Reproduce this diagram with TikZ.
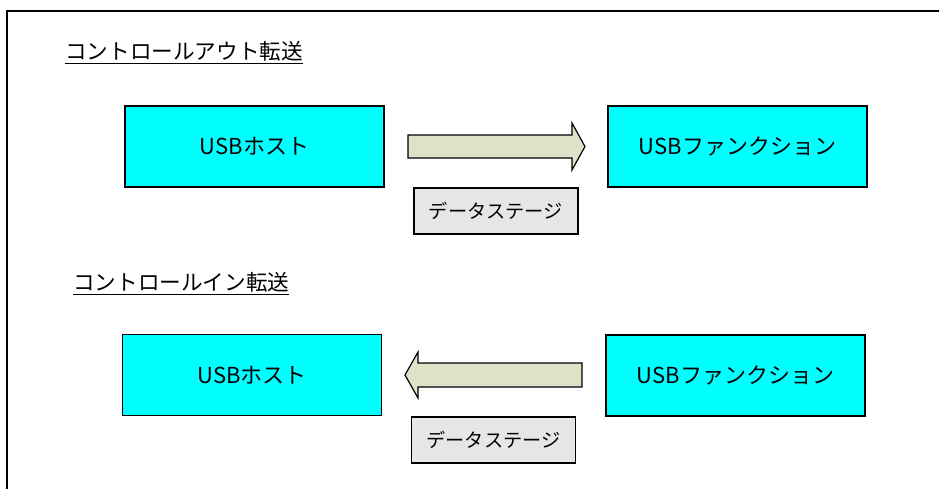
\documentclass[tikz,border=0pt]{standalone}
\usepackage{fontspec}
\setmainfont{Noto Sans CJK JP}
\definecolor{usbcyan}{HTML}{00FFFF}
\definecolor{arrowfill}{HTML}{DDE2C8}
\definecolor{stagefill}{HTML}{E6E6E6}
\tikzset{
  usbbox/.style={draw, line width=0.8pt, fill=usbcyan, minimum width=129.5pt,
    minimum height=40.5pt, inner sep=0pt, font=\fontsize{11}{13}\selectfont},
  stagebox/.style={draw, line width=0.8pt, fill=stagefill, minimum width=82pt,
    minimum height=23pt, inner sep=0pt, font=\fontsize{9.6}{11}\selectfont},
  blockarrow/.style={draw, line width=0.6pt, fill=arrowfill},
  titletext/.style={anchor=west, inner sep=0pt, font=\fontsize{10.8}{13}\selectfont}
}
\begin{document}
\begin{tikzpicture}[x=0.5pt,y=-0.5pt]
  \useasboundingbox (0,0) rectangle (939,489);
  % frame
  \draw [line width=0.7pt] (7,489) -- (7,11) -- (939,11);

  % control out
  \node [titletext] (titleout) at (65,53) {\underline{コントロールアウト転送}};
  \node [usbbox] (hostout) at (254.5,146.5) {USBホスト};
  \node [usbbox] (funcout) at (737.5,146.5) {USBファンクション};
  \node [stagebox] (stageout) at (496,211) {データステージ};
  \draw [blockarrow] (408,135) -- (572,135) -- (572,123) -- (585,146.5)
    -- (572,170) -- (572,158) -- (408,158) -- cycle;

  % control in
  \node [titletext] (titlein) at (73,284) {\underline{コントロールイン転送}};
  \node [usbbox] (hostin) at (252,375) {USBホスト};
  \node [usbbox] (funcin) at (735.5,375.5) {USBファンクション};
  \node [stagebox] (stagein) at (493.5,440) {データステージ};
  \draw [blockarrow] (582,363) -- (418,363) -- (418,352) -- (405,375)
    -- (418,398) -- (418,387) -- (582,387) -- cycle;
\end{tikzpicture}
\end{document}
